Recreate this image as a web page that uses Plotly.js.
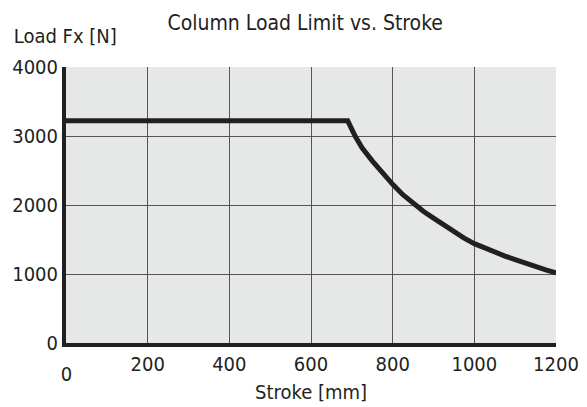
<!DOCTYPE html>
<html>
<head>
<meta charset="utf-8">
<script src="https://cdn.plot.ly/plotly-3.0.1.min.js"></script>
<style>html,body{margin:0;padding:0;background:#fff;}#chart{width:587px;height:407px;}
#chart svg text{font-stretch:condensed !important;}</style>
</head>
<body>
<div id="chart"></div>
<script>
const strokeMm = [0, 690, 708, 725, 750, 775, 800, 825, 855, 875, 900, 925, 950, 975, 1000, 1025, 1050, 1075, 1100, 1125, 1150, 1175, 1200];
const loadN    = [3220, 3220, 3000, 2830, 2640, 2460, 2300, 2150, 2000, 1910, 1810, 1710, 1610, 1520, 1440, 1375, 1315, 1260, 1210, 1155, 1105, 1060, 1015];
const xTicks = [200, 400, 600, 800, 1000, 1200];
const yTicks = [0, 1000, 2000, 3000, 4000];
const FONT = '"DejaVu Sans", "Liberation Sans", sans-serif';

const trace = {
  x: strokeMm, y: loadN, type: 'scatter', mode: 'lines',
  line: {color: '#231f20', width: 5},
  hoverinfo: 'skip'
};

const layout = {
  width: 587, height: 407,
  margin: {l: 66, r: 31, t: 67, b: 64},
  paper_bgcolor: '#ffffff',
  plot_bgcolor: '#e6e8e8',
  showlegend: false,
  font: {family: FONT, color: '#231f20', size: 20},
  title: {text: 'Column Load Limit vs. Stroke', x: 0.52, xanchor: 'center', y: 0.945, yanchor: 'middle',
          font: {family: FONT, size: 21, color: '#231f20'}},
  xaxis: {
    range: [0, 1200], tickvals: xTicks, ticktext: xTicks.map(String),
    showgrid: true, gridcolor: '#555555', gridwidth: 1,
    zeroline: false, showline: true, linecolor: '#231f20', linewidth: 4,
    ticks: '', ticklabelstandoff: 0,
    tickfont: {family: FONT, size: 20, color: '#231f20'},
    title: {text: 'Stroke [mm]', font: {family: FONT, size: 20, color: '#231f20'}, standoff: 11},
    fixedrange: true
  },
  yaxis: {
    range: [0, 4000], tickvals: yTicks, ticktext: yTicks.map(String),
    showgrid: true, gridcolor: '#555555', gridwidth: 1,
    zeroline: false, showline: true, linecolor: '#231f20', linewidth: 4,
    ticks: '', ticklabelstandoff: 0,
    tickfont: {family: FONT, size: 20, color: '#231f20'},
    fixedrange: true
  },
  annotations: [
    {text: 'Load Fx [N]', xref: 'paper', yref: 'paper', x: -0.122, y: 1.0, xanchor: 'left', yanchor: 'bottom',
     yshift: 17, showarrow: false, font: {family: FONT, size: 20, color: '#231f20'}},
    {text: '0', xref: 'x', yref: 'paper', x: 0, y: 0, xanchor: 'center', yanchor: 'top',
     yshift: -17, showarrow: false, font: {family: FONT, size: 20, color: '#231f20'}}
  ]
};

Plotly.newPlot('chart', [trace], layout, {displayModeBar: false, staticPlot: true});
</script>
</body>
</html>
